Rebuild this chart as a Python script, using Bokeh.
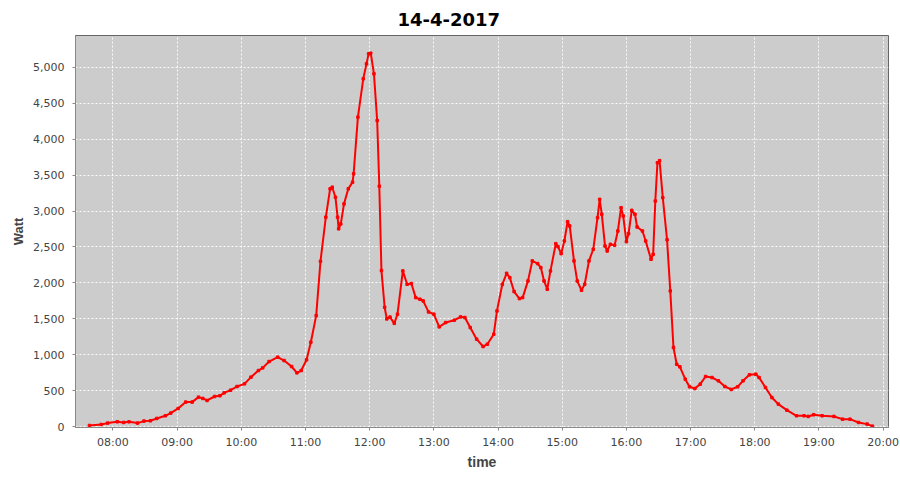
import pandas as pd
from bokeh.plotting import figure
from bokeh.models import (Range1d, FixedTicker, DatetimeTickFormatter, NumeralTickFormatter,
                          Legend, LegendItem, ColumnDataSource)
from bokeh.embed import file_html
from bokeh.resources import INLINE

DAY = "2017-04-14"
TITLE = "14-4-2017"
SERIES_NAME = "Merged inverters"
X_LABEL = "time"
Y_LABEL = "Watt"

times = [
    "07:38", "07:49", "07:55", "08:04", "08:10", "08:15", "08:23", "08:29", "08:35", "08:41",
    "08:49", "08:54", "09:01", "09:08", "09:14", "09:20", "09:24", "09:28", "09:35", "09:40",
    "09:44", "09:50", "09:56", "10:03", "10:09", "10:16", "10:20", "10:26", "10:34", "10:40",
    "10:47", "10:52", "10:56", "11:01", "11:05", "11:10", "11:14", "11:19", "11:23", "11:25",
    "11:28", "11:30", "11:31", "11:33", "11:36", "11:40", "11:44", "11:45", "11:49", "11:54",
    "11:57", "11:59", "12:01", "12:04", "12:07", "12:09", "12:11", "12:14", "12:16", "12:19",
    "12:23", "12:26", "12:31", "12:35", "12:39", "12:43", "12:47", "12:50", "12:55", "13:00",
    "13:05", "13:11", "13:19", "13:25", "13:29", "13:34", "13:40", "13:46", "13:50", "13:56",
    "13:59", "14:04", "14:08", "14:11", "14:15", "14:20", "14:23", "14:28", "14:32", "14:37",
    "14:40", "14:43", "14:46", "14:49", "14:54", "14:56", "14:59", "15:02", "15:05", "15:07",
    "15:11", "15:14", "15:18", "15:21", "15:25", "15:29", "15:33", "15:35", "15:37", "15:40",
    "15:42", "15:45", "15:49", "15:52", "15:55", "15:57", "16:00", "16:02", "16:05", "16:08",
    "16:10", "16:15", "16:18", "16:23", "16:25", "16:27", "16:29", "16:31", "16:34", "16:38",
    "16:41", "16:44", "16:47", "16:50", "16:55", "16:59", "17:04", "17:09", "17:14", "17:20",
    "17:26", "17:32", "17:38", "17:44", "17:49", "17:55", "18:01", "18:04", "18:10", "18:16",
    "18:22", "18:30", "18:39", "18:46", "18:50", "18:55", "19:03", "19:14", "19:22", "19:29",
    "19:37", "19:45", "19:50",
]
watts = [
    18, 32, 51, 69, 60, 69, 51, 79, 83, 116,
    153, 190, 255, 343, 343, 412, 394, 366, 421, 431,
    472, 509, 560, 597, 690, 782, 819, 907, 968, 921,
    838, 750, 782, 931, 1176, 1546, 2300, 2914, 3308, 3331,
    3192, 2914, 2752, 2821, 3099, 3308, 3401, 3517, 4305, 4838,
    5046, 5185, 5194, 4907, 4258, 3345, 2172, 1662, 1500, 1525,
    1438, 1565, 2167, 1981, 1991, 1796, 1773, 1750, 1597, 1565,
    1389, 1449, 1481, 1528, 1519, 1380, 1218, 1116, 1148, 1287,
    1611, 1981, 2134, 2074, 1880, 1782, 1796, 2028, 2306, 2269,
    2213, 2028, 1912, 2167, 2546, 2505, 2407, 2583, 2852, 2792,
    2306, 2028, 1898, 1981, 2306, 2468, 2907, 3162, 2954, 2514,
    2444, 2537, 2523, 2722, 3046, 2931, 2574, 2685, 3009, 2954,
    2778, 2722, 2583, 2329, 2398, 3139, 3671, 3700, 3185, 2600,
    1889, 1102, 870, 833, 662, 556, 532, 593, 699, 685,
    639, 560, 519, 556, 639, 722, 731, 685, 546, 407,
    315, 231, 153, 153, 144, 167, 153, 144, 106, 106,
    60, 37, 9,
]
hour_ticks = [f"{h:02d}:00" for h in range(8, 21)]
y_ticks = list(range(0, 5001, 500))

EPOCH = pd.Timestamp("1970-01-01")
def to_ms(hm):
    return (pd.Timestamp(f"{DAY} {hm}") - EPOCH).total_seconds() * 1000.0

src = ColumnDataSource(data=dict(t=[pd.Timestamp(f"{DAY} {s}") for s in times], w=watts))

p = figure(width=900, height=500, frame_width=813, frame_height=392,
           output_backend="svg", toolbar_location=None,
           x_axis_type="datetime",
           x_range=Range1d(to_ms("07:25"), to_ms("20:05")),
           y_range=Range1d(-10, 5440),
           min_border_left=75, min_border_right=12, min_border_top=35, min_border_bottom=0)

p.background_fill_color = "#cccccc"
p.border_fill_color = "white"
p.outline_line_color = "#666666"
p.outline_line_width = 1

p.title.text = TITLE
p.title.align = "left"
p.title.offset = 322
p.title.text_font = "DejaVu Sans"
p.title.text_font_size = "18px"
p.title.text_font_style = "bold"
p.title.text_color = "black"
p.title.standoff = 20

for g in (p.xgrid, p.ygrid):
    g.grid_line_color = "white"
    g.grid_line_dash = "2 2"
    g.grid_line_width = 1
    g.grid_line_alpha = 0.9

p.xaxis.ticker = FixedTicker(ticks=[to_ms(h) for h in hour_ticks])
p.xaxis.formatter = DatetimeTickFormatter(hours="%H:%M", hourmin="%H:%M", minutes="%H:%M",
                                          minsec="%H:%M", days="%H:%M")
p.yaxis.ticker = FixedTicker(ticks=y_ticks)
p.yaxis.formatter = NumeralTickFormatter(format="0,0")

for ax in (p.xaxis, p.yaxis):
    ax.axis_line_color = "#888888"
    ax.major_tick_line_color = "#888888"
    ax.major_tick_out = 3
    ax.major_tick_in = 0
    ax.minor_tick_line_color = None
    ax.major_label_text_font = "DejaVu Sans"
    ax.major_label_text_font_size = "11px"
    ax.major_label_text_color = "#444444"
    ax.axis_label_text_font = "Liberation Sans"
    ax.axis_label_text_font_style = "bold"
    ax.axis_label_text_color = "#444444"
p.xaxis.axis_label = X_LABEL
p.yaxis.axis_label = Y_LABEL
p.xaxis.axis_label_text_font_size = "14px"
p.yaxis.axis_label_text_font_size = "13px"
p.xaxis.major_label_standoff = 5
p.xaxis.axis_label_standoff = 2
p.yaxis.major_label_standoff = 8
p.yaxis.axis_label_standoff = 4

ln = p.line("t", "w", source=src, line_color="#ff0000", line_width=2)
sc = p.scatter("t", "w", source=src, marker="square", size=2.5, fill_color="#ff0000",
               line_color="#ff0000")

legend = Legend(items=[LegendItem(label=SERIES_NAME, renderers=[ln, sc])],
                location="top_center", orientation="horizontal",
                border_line_color="black", border_line_width=1, border_line_alpha=1,
                background_fill_color="white", background_fill_alpha=1,
                label_text_font="DejaVu Sans", label_text_font_size="11px",
                label_text_color="#333333", glyph_width=16, glyph_height=10,
                label_standoff=3, padding=3, margin=10, spacing=0, label_height=14)
p.add_layout(legend, "below")

open("out.html", "w").write(file_html(p, INLINE))
